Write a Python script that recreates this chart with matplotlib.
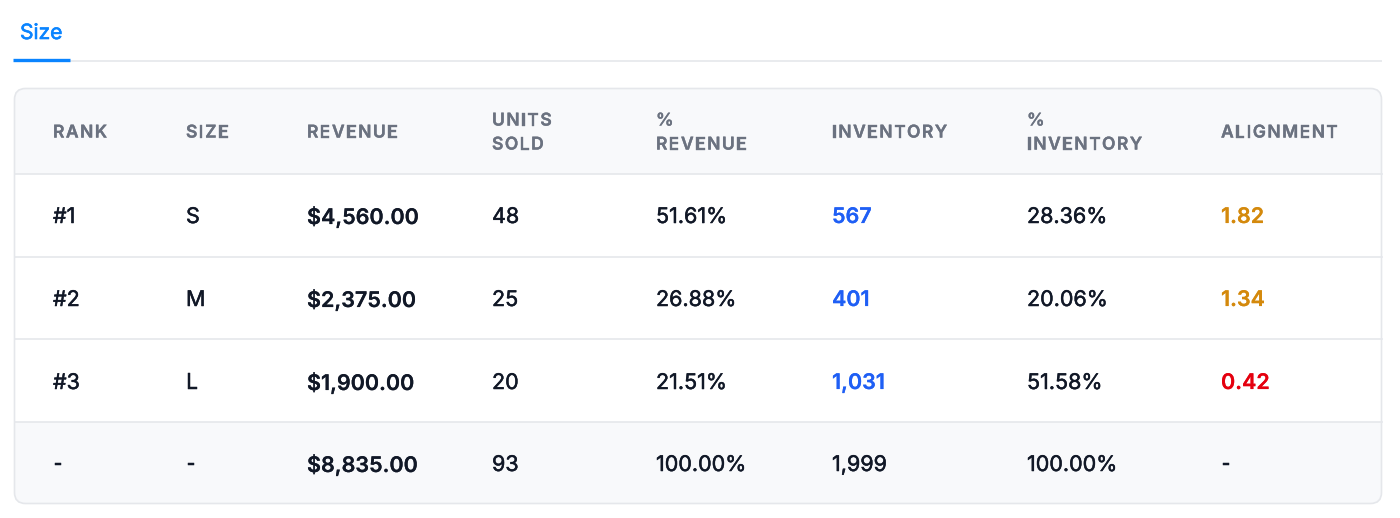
import matplotlib
matplotlib.use("Agg")
import matplotlib.pyplot as plt
import matplotlib.patheffects as pe
from matplotlib.patches import FancyBboxPatch, Rectangle
from matplotlib.font_manager import FontProperties
from matplotlib.textpath import text_to_path

# --- data ---
tab_label = "Size"
headers = [["RANK"], ["SIZE"], ["REVENUE"], ["UNITS", "SOLD"], ["%", "REVENUE"],
           ["INVENTORY"], ["%", "INVENTORY"], ["ALIGNMENT"]]
ranks = ["#1", "#2", "#3"]
sizes = ["S", "M", "L"]
revenue = [4560.00, 2375.00, 1900.00]
units_sold = [48, 25, 20]
pct_revenue = [51.61, 26.88, 21.51]
inventory = [567, 401, 1031]
pct_inventory = [28.36, 20.06, 51.58]
alignment = [1.82, 1.34, 0.42]
total_revenue = 8835.00
total_units = 93
total_pct_revenue = 100.00
total_inventory = 1999
total_pct_inventory = 100.00

# --- style ---
FONT = "Inter"
BORDER = "#e5e7eb"
HEAD_BG = "#f8f9fb"
HEAD_TXT = "#6b7280"
BODY_TXT = "#111827"
BLUE = "#1f5ff5"
ORANGE = "#d4890c"
RED = "#e5000f"
TAB_BLUE = "#0a84ff"

W, H, DPI = 1400, 518, 100
fig = plt.figure(figsize=(W / DPI, H / DPI), dpi=DPI)
ax = fig.add_axes([0, 0, 1, 1])
ax.set_xlim(0, W)
ax.set_ylim(H, 0)
ax.axis("off")


def px(size_px):
    return size_px * 72 / DPI


def thicken(color, lw):
    if lw <= 0:
        return []
    return [pe.withStroke(linewidth=lw, foreground=color)]


def tracked_text(x, y, s, size_px, tracking, color, weight):
    # draw text char by char to emulate letter spacing
    fp = FontProperties(family=FONT, weight=weight, size=px(size_px))
    for i, ch in enumerate(s):
        w = text_to_path.get_text_width_height_descent(s[:i], fp, ismath=False)[0] if i else 0
        ax.text(x + w * DPI / 72 + i * tracking, y, ch, fontproperties=fp,
                color=color, ha="left", va="center_baseline",
                path_effects=thicken(color, 0.25))


# tab
ax.text(20, 31, tab_label, fontsize=px(21), family=FONT, color=TAB_BLUE,
        ha="left", va="center_baseline", fontweight="normal",
        path_effects=thicken(TAB_BLUE, 0.45))
ax.plot([70, 1382], [60.5, 60.5], color=BORDER, lw=1.2, solid_capstyle="butt")
ax.plot([13, 70], [59.5, 59.5], color=TAB_BLUE, lw=2.4, solid_capstyle="butt")

# table frame
left, right, top, bottom = 14.5, 1381.5, 88.5, 503.5
row_lines = [174, 256.5, 339, 421.5]
frame = FancyBboxPatch((left, top), right - left, bottom - top,
                       boxstyle="round,pad=0,rounding_size=11",
                       facecolor="white", edgecolor="none", zorder=0)
ax.add_patch(frame)
for y0, y1 in [(top, row_lines[0]), (row_lines[3], bottom)]:
    r = Rectangle((left, y0), right - left, y1 - y0, facecolor=HEAD_BG,
                  edgecolor="none", zorder=1)
    ax.add_patch(r)
    r.set_clip_path(frame)
for y in row_lines:
    ax.plot([left, right], [y, y], color=BORDER, lw=1.2, zorder=2)
outline = FancyBboxPatch((left, top), right - left, bottom - top,
                         boxstyle="round,pad=0,rounding_size=11",
                         facecolor="none", edgecolor=BORDER, lw=1.2, zorder=3)
ax.add_patch(outline)

col_x = [53, 186, 307, 492, 656, 832, 1027, 1221]

# header
for x, lines in zip(col_x, headers):
    if len(lines) == 1:
        tracked_text(x, 131, lines[0], 17.5, 1.45, HEAD_TXT, "semibold")
    else:
        tracked_text(x, 119, lines[0], 17.5, 1.45, HEAD_TXT, "semibold")
        tracked_text(x, 143, lines[1], 17.5, 1.45, HEAD_TXT, "semibold")

row_y = [215, 298, 381, 463]
BODY = 21.5


def cell(x, y, s, color=BODY_TXT, weight="normal"):
    lw = 0.35 if weight == "normal" else 0.12
    ax.text(x, y, s, fontsize=px(BODY), family=FONT, color=color,
            ha="left", va="center_baseline", fontweight=weight,
            path_effects=thicken(color, lw))


for i in range(len(ranks)):
    y = row_y[i]
    cell(col_x[0], y, ranks[i])
    cell(col_x[1], y, sizes[i])
    cell(col_x[2], y, f"${revenue[i]:,.2f}", weight="semibold")
    cell(col_x[3], y, f"{units_sold[i]}")
    cell(col_x[4], y, f"{pct_revenue[i]:.2f}%")
    cell(col_x[5], y, f"{inventory[i]:,}", color=BLUE, weight="semibold")
    cell(col_x[6], y, f"{pct_inventory[i]:.2f}%")
    cell(col_x[7], y, f"{alignment[i]:.2f}",
         color=ORANGE if alignment[i] >= 1 else RED, weight="semibold")

y = row_y[3]
cell(col_x[0], y, "-")
cell(col_x[1], y, "-")
cell(col_x[2], y, f"${total_revenue:,.2f}", weight="semibold")
cell(col_x[3], y, f"{total_units}")
cell(col_x[4], y, f"{total_pct_revenue:.2f}%")
cell(col_x[5], y, f"{total_inventory:,}")
cell(col_x[6], y, f"{total_pct_inventory:.2f}%")
cell(col_x[7], y, "-")

fig.savefig("out.png", dpi=DPI, facecolor="white")
